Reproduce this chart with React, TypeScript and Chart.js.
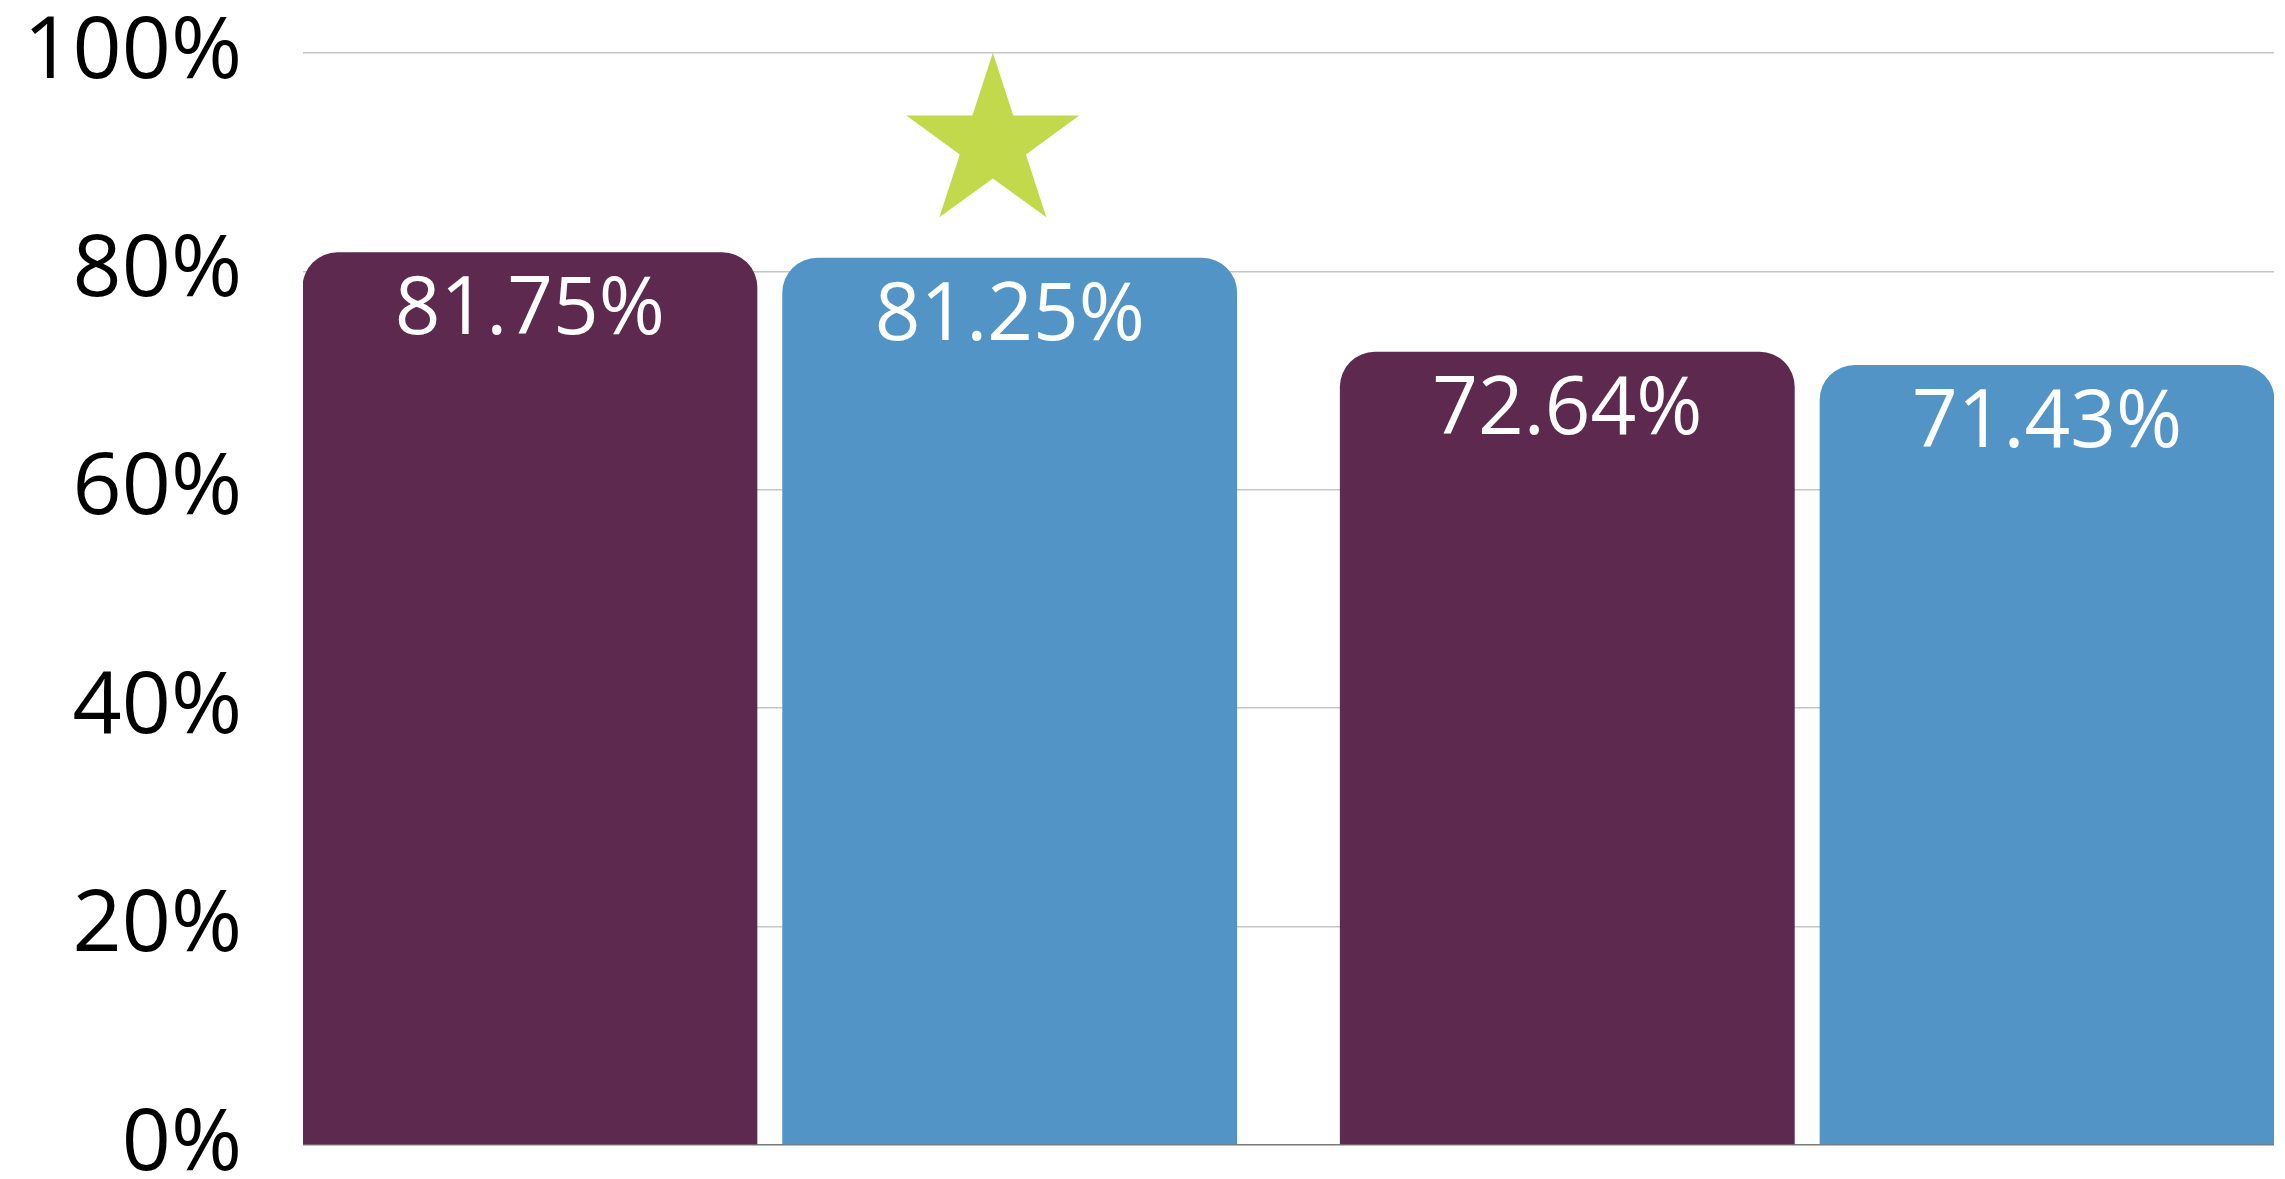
import React, { useEffect, useRef } from 'react';
import { Chart, registerables } from 'chart.js';

Chart.register(...registerables);

// ---- Data ----
const categories = ['Category 1', 'Category 2'];
const seriesNames = ['Series 1', 'Series 2'];
const series1Values = [81.75, 72.64];
const series2Values = [81.25, 71.43];
const yTickValues = [0, 20, 40, 60, 80, 100];
// highlight star: category index, shift within the group (in category units), height in %
const starMarker = { category: 0, shift: 0.215, value: 91.7 };

// ---- Styles ----
const COLORS = ['#5e294e', '#5294c6'];
const STAR_COLOR = '#c2d94c';
const TICK_FONT = '"Open Sans", "Noto Sans", sans-serif';

const valueLabelPlugin = {
  id: 'valueLabels',
  afterDatasetsDraw(chart: any) {
    const ctx = chart.ctx;
    ctx.save();
    ctx.font = `80px ${TICK_FONT}`;
    ctx.fillStyle = '#ffffff';
    ctx.textAlign = 'center';
    ctx.textBaseline = 'alphabetic';
    chart.data.datasets.forEach((ds: any, di: number) => {
      const meta = chart.getDatasetMeta(di);
      meta.data.forEach((el: any, i: number) => {
        const v = ds.data[i].y as number;
        ctx.fillText(v.toFixed(2) + '%', el.x, el.y + 82);
      });
    });
    ctx.restore();
  },
};

const starPlugin = {
  id: 'starMarker',
  afterDatasetsDraw(chart: any) {
    const ctx = chart.ctx;
    const cx = chart.scales.x.getPixelForValue(starMarker.category + starMarker.shift);
    const cy = chart.scales.y.getPixelForValue(starMarker.value);
    const R = 91;
    const r = R * 0.382;
    ctx.save();
    ctx.beginPath();
    for (let k = 0; k < 10; k++) {
      const a = -Math.PI / 2 + (k * Math.PI) / 5;
      const rad = k % 2 === 0 ? R : r;
      const px = cx + rad * Math.cos(a);
      const py = cy + rad * Math.sin(a);
      if (k === 0) ctx.moveTo(px, py);
      else ctx.lineTo(px, py);
    }
    ctx.closePath();
    ctx.fillStyle = STAR_COLOR;
    ctx.fill();
    ctx.restore();
  },
};

export default function App() {
  const canvasRef = useRef<HTMLCanvasElement | null>(null);

  useEffect(() => {
    const canvas = canvasRef.current;
    if (!canvas) return;
    const makeData = (vals: number[]) => vals.map((v, i) => ({ x: i, y: v }));
    const chart = new Chart(canvas, {
      type: 'bar',
      data: {
        datasets: [series1Values, series2Values].map((vals, di) => ({
          label: seriesNames[di],
          data: makeData(vals),
          backgroundColor: COLORS[di],
          borderRadius: 35,
          borderSkipped: 'bottom',
          categoryPercentage: 0.925,
          barPercentage: 0.948,
        })) as any,
      },
      options: {
        responsive: false,
        animation: false,
        layout: { padding: { top: 53, right: 11, bottom: 34, left: 0 } },
        plugins: {
          legend: { display: false },
          tooltip: { enabled: false },
        },
        scales: {
          x: {
            type: 'linear',
            min: -0.45,
            max: 1.45,
            offset: false,
            bounds: 'data',
            grace: 0,
            display: true,
            ticks: { display: false },
            grid: { display: false, drawTicks: false, offset: false },
            border: { display: false },
            afterBuildTicks: (scale: any) => {
              scale.ticks = categories.map((_, i) => ({ value: i }));
            },
            afterFit: (scale: any) => {
              scale.height = 0;
            },
          },
          y: {
            min: 0,
            max: 100,
            afterBuildTicks: (scale: any) => {
              scale.ticks = yTickValues.map((v) => ({ value: v }));
            },
            afterFit: (scale: any) => {
              scale.width = 303;
              scale.paddingTop = 0;
              scale.paddingBottom = 0;
            },
            ticks: {
              callback: (v: any) => v + '%',
              color: '#000000',
              padding: 61,
              font: { family: TICK_FONT, size: 86 },
            },
            grid: {
              color: (ctx: any) => (ctx.tick && ctx.tick.value === 0 ? '#7a7a7a' : '#c6c6c6'),
              lineWidth: 1.5,
              drawTicks: false,
            },
            border: { display: false },
          },
        },
      } as any,
      plugins: [valueLabelPlugin, starPlugin],
    });
    return () => chart.destroy();
  }, []);

  return (
    <canvas
      ref={canvasRef}
      width={2285}
      height={1179}
      style={{ position: 'fixed', left: 0, top: 0, width: 2285, height: 1179 }}
    />
  );
}
